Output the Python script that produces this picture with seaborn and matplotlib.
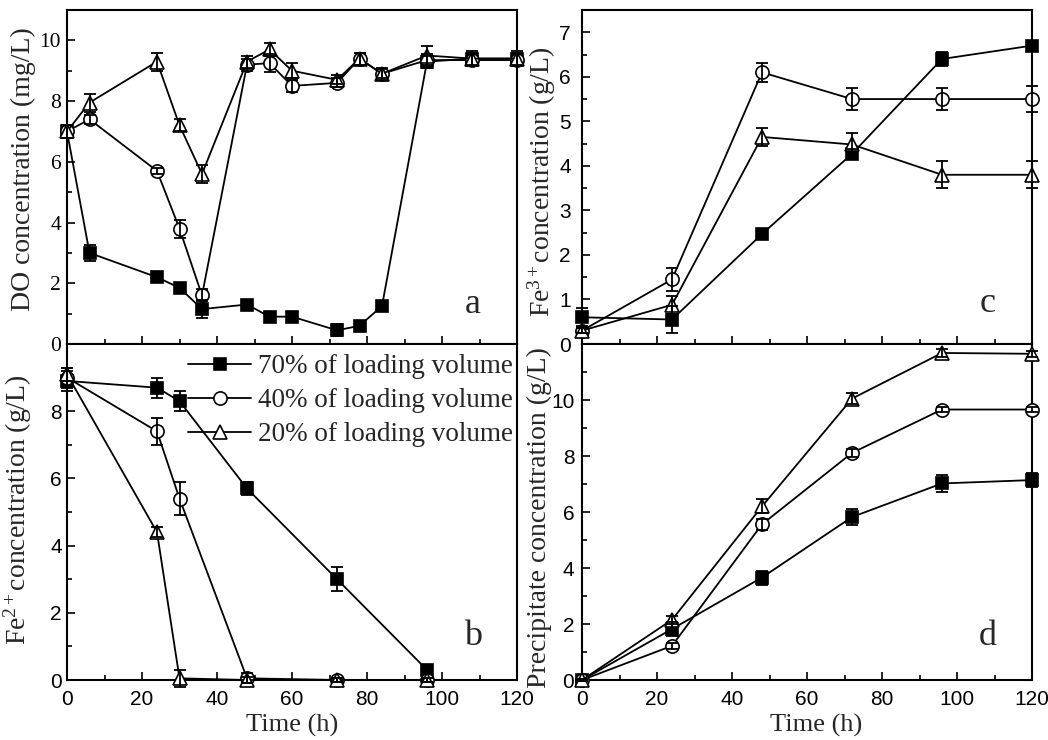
import matplotlib
matplotlib.use("Agg")
import matplotlib.pyplot as plt
from matplotlib.ticker import MultipleLocator
import seaborn as sns
import pandas as pd

# ---------------- data ----------------
series_labels = ["70% of loading volume", "40% of loading volume", "20% of loading volume"]

t_a = [0, 6, 24, 30, 36, 48, 54, 60, 72, 78, 84, 96, 108, 120]
do_70 = [7.0, 3.0, 2.2, 1.85, 1.15, 1.3, 0.9, 0.9, 0.45, 0.6, 1.25, 9.3, 9.4, 9.4]
do_70_err = [0.2, 0.25, 0.1, 0.15, 0.3, 0.1, 0.15, 0.15, 0.2, 0.15, 0.15, 0.2, 0.25, 0.25]
do_40 = [7.0, 7.4, 5.7, 3.8, 1.6, 9.2, 9.25, 8.5, 8.6, 9.4, 8.9, 9.35, 9.35, 9.35]
do_40_err = [0.2, 0.15, 0.1, 0.3, 0.2, 0.2, 0.3, 0.2, 0.15, 0.2, 0.2, 0.2, 0.2, 0.2]
do_20 = [7.0, 7.95, 9.3, 7.2, 5.6, 9.3, 9.7, 9.0, 8.7, 9.4, 8.9, 9.5, 9.4, 9.4]
do_20_err = [0.2, 0.3, 0.3, 0.2, 0.3, 0.2, 0.2, 0.25, 0.15, 0.2, 0.15, 0.3, 0.2, 0.2]

t_b = [0, 24, 30, 48, 72, 96]
fe2_70 = [8.9, 8.7, 8.3, 5.7, 3.0, 0.3]
fe2_70_err = [0.3, 0.3, 0.3, 0.2, 0.35, 0.1]
fe2_40 = [9.0, 7.4, 5.4, 0.05, 0.0, 0.0]
fe2_40_err = [0.3, 0.4, 0.5, 0.15, 0.05, 0.05]
fe2_20 = [9.1, 4.4, 0.05, 0.0, 0.0, 0.0]
fe2_20_err = [0.2, 0.15, 0.25, 0.1, 0.05, 0.05]

t_c = [0, 24, 48, 72, 96, 120]
fe3_70 = [0.6, 0.55, 2.47, 4.27, 6.4, 6.7]
fe3_70_err = [0.2, 0.3, 0.08, 0.1, 0.15, 0.08]
fe3_40 = [0.3, 1.45, 6.1, 5.5, 5.5, 5.5]
fe3_40_err = [0.05, 0.25, 0.22, 0.25, 0.25, 0.3]
fe3_20 = [0.3, 0.88, 4.65, 4.48, 3.8, 3.8]
fe3_20_err = [0.05, 0.2, 0.2, 0.25, 0.3, 0.3]

t_d = [0, 24, 48, 72, 96, 120]
pre_70 = [0.0, 1.82, 3.66, 5.82, 7.02, 7.14]
pre_70_err = [0.05, 0.25, 0.25, 0.3, 0.3, 0.25]
pre_40 = [0.0, 1.22, 5.56, 8.11, 9.66, 9.66]
pre_40_err = [0.05, 0.1, 0.2, 0.15, 0.1, 0.1]
pre_20 = [0.0, 2.15, 6.2, 10.05, 11.68, 11.65]
pre_20_err = [0.05, 0.15, 0.25, 0.2, 0.15, 0.1]

# ---------------- style ----------------
sns.set_style("ticks")
SERIF = ["Liberation Serif", "DejaVu Serif"]
SANS = ["Liberation Sans", "DejaVu Sans"]
plt.rcParams["font.family"] = SERIF
plt.rcParams["mathtext.fontset"] = "custom"
plt.rcParams["mathtext.rm"] = "Liberation Serif"
plt.rcParams["mathtext.it"] = "Liberation Serif:italic"

marker_styles = [
    dict(marker="s", markerfacecolor="black", markeredgecolor="black", markersize=8.5),
    dict(marker="o", markerfacecolor="white", markeredgecolor="black", markersize=9.5),
    dict(marker="^", markerfacecolor="white", markeredgecolor="black", markersize=10.5),
]

fig = plt.figure(figsize=(10.48, 7.40), dpi=100)
W, H = 1048, 740


def add_ax(l, t, r, b):
    return fig.add_axes([l / W, 1 - b / H, (r - l) / W, (b - t) / H])


ax_a = add_ax(67, 10, 517, 344)
ax_b = add_ax(67, 344, 517, 680)
ax_c = add_ax(582, 10, 1032, 344)
ax_d = add_ax(582, 344, 1032, 680)


def draw(ax, t, ys, errs):
    for lab, y, e, ms in zip(series_labels, ys, errs, marker_styles):
        df = pd.DataFrame({"t": t, "v": y})
        sns.lineplot(data=df, x="t", y="v", ax=ax, color="black", linewidth=1.3,
                     markeredgewidth=1.2, label=lab, errorbar=None, clip_on=False,
                     zorder=3, **ms)
        eb = ax.errorbar(t, y, yerr=e, fmt="none", ecolor="black", elinewidth=1.3,
                         capsize=4.5, capthick=1.3, zorder=4)
        for art in list(eb.lines[1]) + list(eb.lines[2]):
            art.set_clip_on(False)


draw(ax_a, t_a, [do_70, do_40, do_20], [do_70_err, do_40_err, do_20_err])
draw(ax_b, t_b, [fe2_70, fe2_40, fe2_20], [fe2_70_err, fe2_40_err, fe2_20_err])
draw(ax_c, t_c, [fe3_70, fe3_40, fe3_20], [fe3_70_err, fe3_40_err, fe3_20_err])
draw(ax_d, t_d, [pre_70, pre_40, pre_20], [pre_70_err, pre_40_err, pre_20_err])

limits = {ax_a: (11, 1, range(0, 11, 2), 4.2),
          ax_b: (10, 1, range(0, 9, 2), 3.8),
          ax_c: (7.5, 0.5, range(0, 8, 1), 8.0),
          ax_d: (12, 1, range(0, 11, 2), 5.5)}

for ax, (ytop, mnr, ticks, ypad) in limits.items():
    ax.set_xlim(0, 120)
    ax.set_ylim(0, ytop)
    ax.set_yticks(list(ticks))
    ax.yaxis.set_minor_locator(MultipleLocator(mnr))
    ax.set_xticks(range(0, 121, 20))
    ax.xaxis.set_minor_locator(MultipleLocator(10))
    ax.tick_params(which="both", direction="in", top=False, right=False, width=1.2,
                   colors="black", labelsize=15)
    ax.tick_params(axis="y", pad=ypad)
    ax.tick_params(axis="x", pad=7.5)
    ax.tick_params(which="major", length=6)
    ax.tick_params(which="minor", length=3.5)
    for sp in ax.spines.values():
        sp.set_visible(True)
        sp.set_linewidth(1.5)
        sp.set_color("black")
    ax.set_xlabel("")
    ax.set_ylabel("")
    if ax.get_legend() is not None:
        ax.get_legend().remove()
    ax.set_facecolor("white")

# tick label fonts
for lbl in ax_a.get_yticklabels():
    lbl.set_fontfamily(SERIF)
    lbl.set_fontsize(15.5)
for ax in (ax_b, ax_c, ax_d):
    for lbl in ax.get_yticklabels() + ax.get_xticklabels():
        lbl.set_fontfamily(SANS)
ax_a.tick_params(axis="x", labelbottom=False)
ax_c.tick_params(axis="x", labelbottom=False)

# axis labels
ax_a.set_ylabel("DO concentration (mg/L)", fontsize=20)
ax_b.set_ylabel(r"Fe$\mathregular{^{2+}}$concentration (g/L)", fontsize=20)
ax_c.set_ylabel(r"Fe$\mathregular{^{3+}}$concentration (g/L)", fontsize=20)
ax_d.set_ylabel("Precipitate concentration (g/L)", fontsize=20)
ax_a.yaxis.set_label_coords(-0.069, 0.524)
ax_b.yaxis.set_label_coords(-0.073, 0.506)
ax_c.yaxis.set_label_coords(-0.053, 0.485)
ax_d.yaxis.set_label_coords(-0.067, 0.482)

ax_b.set_xlabel("Time (h)", fontsize=19)
ax_d.set_xlabel("Time (h)", fontsize=19)
ax_b.xaxis.set_label_coords(0.50, -0.10)
ax_d.xaxis.set_label_coords(0.52, -0.10)

# panel letters
for ax, letter, y in ((ax_a, "a", 0.093), (ax_b, "b", 0.104),
                      (ax_c, "c", 0.096), (ax_d, "d", 0.104)):
    ax.text(0.902, y, letter, transform=ax.transAxes, fontsize=26,
            ha="center", va="baseline")

# legend in panel b
handles, labels = ax_b.get_legend_handles_labels()
ax_b.legend(handles[:3], labels[:3], loc="upper right", bbox_to_anchor=(1.013, 1.0),
            frameon=False, fontsize=19.5,
            handlelength=2.3, handletextpad=0.25, labelspacing=0.33,
            borderaxespad=0.28, borderpad=0.1)

fig.savefig("out.png", dpi=100, facecolor="white")
